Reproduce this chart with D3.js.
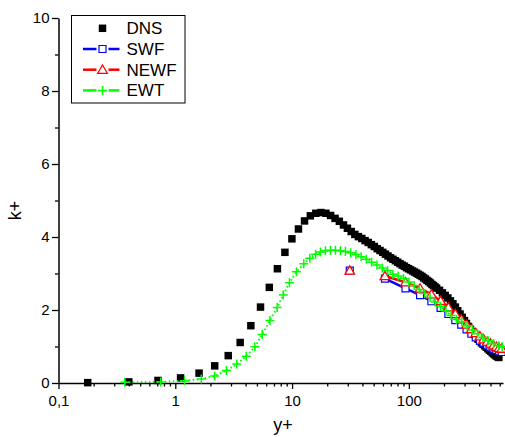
<!DOCTYPE html>
<html>
<head>
<meta charset="utf-8">
<script src="https://cdn.jsdelivr.net/npm/d3@7"></script>
<style>
html,body{margin:0;padding:0;background:#fff;}
svg{display:block;font-family:"Liberation Sans",Arial,sans-serif;}
</style>
</head>
<body>
<svg id="chart" width="505" height="437"></svg>
<script>
// ---- data ----
const dnsY = [0.178,0.400,0.711,1.110,1.598,2.175,2.841,3.595,4.437,5.369,6.386,7.49,8.686,9.968,11.34,12.79,14.34,15.97,17.68,19.48,21.37,23.34,25.40,27.55,29.78,32.09,34.49,36.97,39.54,42.18,44.91,47.73,50.61,53.59,56.65,59.78,62.99,66.29,69.67,73.12,76.66,80.26,83.96,87.70,91.56,95.45,99.43,103.5,107.6,111.8,116.1,120.5,124.9,129.4,133.9,138.5,143.2,148.0,152.8,157.7,162.7,167.7,172.8,183.2,193.8,204.6,215.7,227.0,238.4,250.3,262.2,274.4,286.5,299.2,311.2,324.7,337.2,350.9,364.2,377.7,391.1,404.9,418.7,432.6,446.6,460.7,474.9,489.1,503.5,517.8,532.2,546.6,561.0,575.5,590.0];
const dnsK = [0.01,0.03,0.07,0.14,0.27,0.47,0.75,1.11,1.57,2.08,2.62,3.13,3.58,3.95,4.22,4.44,4.58,4.65,4.67,4.65,4.59,4.51,4.43,4.33,4.24,4.15,4.07,4.01,3.96,3.90,3.85,3.79,3.74,3.68,3.63,3.58,3.53,3.48,3.43,3.39,3.35,3.31,3.27,3.23,3.20,3.16,3.13,3.10,3.07,3.04,3.01,2.98,2.95,2.92,2.88,2.85,2.81,2.78,2.74,2.70,2.67,2.63,2.60,2.54,2.47,2.40,2.33,2.25,2.17,2.08,1.98,1.89,1.80,1.71,1.63,1.55,1.47,1.40,1.33,1.26,1.20,1.15,1.10,1.06,1.02,0.98,0.94,0.90,0.87,0.83,0.80,0.77,0.74,0.72,0.70];

const ransY = [31.2,62.4,93.6,124.8,156,187,218,250,281,312,343,374,406,437,468,499,530,562,593,624];
const swfK  = [3.08,2.86,2.59,2.41,2.24,2.06,1.89,1.72,1.60,1.47,1.35,1.25,1.16,1.09,1.03,0.98,0.94,0.90,0.87,0.85];
const newfK = [3.08,2.93,2.76,2.59,2.43,2.25,2.07,1.89,1.74,1.60,1.48,1.37,1.28,1.20,1.13,1.08,1.03,0.99,0.96,0.94];

const ewtY = [0.37,0.75,1.2,1.67,2.17,2.74,3.36,4.05,4.8,5.55,6.46,7.46,8.4,9.5,10.9,12.6,14.2,15.9,17.5,19.3,21.3,23.5,25.9,28.6,31.7,35.2,39,43.3,48,53.3,59.2,65.7,72.9,81,90,100,111,123,137,152,168,187,208,230,256,284,315,350,388,431,478,531,590,630];
const ewtK = [0.02,0.03,0.06,0.11,0.19,0.34,0.52,0.73,0.99,1.33,1.71,2.07,2.41,2.75,3.05,3.27,3.42,3.53,3.59,3.62,3.64,3.64,3.62,3.60,3.57,3.52,3.46,3.39,3.31,3.23,3.15,3.08,2.98,2.93,2.86,2.77,2.67,2.56,2.45,2.34,2.22,2.10,1.97,1.85,1.74,1.68,1.57,1.45,1.35,1.25,1.16,1.08,1.02,0.99];

const xMajorTicks = [0.1,1,10,100];
const xMajorLabels = ["0,1","1","10","100"];
const yMajorTicks = [0,2,4,6,8,10];
const yMinorTicks = [1,3,5,7,9];
const legendNames = ["DNS","SWF","NEWF","EWT"];

// ---- layout ----
const svg = d3.select("#chart");
const x = d3.scaleLog().domain([0.1, 640]).range([58.5, 503]);
const y = d3.scaleLinear().domain([0, 10]).range([383, 18]);

const xMinor = [];
[0.1,1,10,100].forEach(d => { for (let m = 2; m <= 9; m++) { const v = d*m; if (v <= 640) xMinor.push(v); } });

const fontTick = 15;
// x axis
const gx = svg.append("g").attr("transform", `translate(0,${y(0)})`);
gx.call(d3.axisBottom(x).tickValues(xMinor).tickSize(3.5).tickSizeOuter(0).tickFormat(""));
gx.call(g => g.select(".domain").remove());
const gx2 = svg.append("g").attr("transform", `translate(0,${y(0)})`);
gx2.call(d3.axisBottom(x).tickValues(xMajorTicks).tickSize(6).tickSizeOuter(0)
  .tickFormat((d,i) => xMajorLabels[i]).tickPadding(6));
gx2.select(".domain").attr("stroke-width", 1.5);
// y axis
const gy = svg.append("g").attr("transform", `translate(${x(0.1)},0)`);
gy.call(d3.axisLeft(y).tickValues(yMinorTicks).tickSize(3.5).tickSizeOuter(0).tickFormat(""));
gy.call(g => g.select(".domain").remove());
const gy2 = svg.append("g").attr("transform", `translate(${x(0.1)},0)`);
gy2.call(d3.axisLeft(y).tickValues(yMajorTicks).tickSize(6.5).tickSizeOuter(0).tickPadding(2.5));
gy2.select(".domain").attr("stroke-width", 1.5);

svg.selectAll(".tick line").attr("stroke", "#000").attr("stroke-width", 1.3);
svg.selectAll(".tick text").attr("font-size", fontTick).attr("fill", "#000")
   .attr("font-family", '"Liberation Sans",Arial,sans-serif');

// axis titles
svg.append("text").attr("x", 283).attr("y", 431).attr("text-anchor", "middle")
  .attr("font-size", 18).text("y+");
svg.append("text").attr("transform", "translate(20.5,210.5) rotate(-90)")
  .attr("text-anchor", "middle").attr("font-size", 18).text("k+");

// ---- marks ----
const plot = svg.append("g");
const sq = d3.symbol().type(d3.symbolSquare);
const tri = d3.symbol().type(d3.symbolTriangle);
function plusPath(s){ const h=s/2; return `M${-h},0H${h}M0,${-h}V${h}`; }

// DNS
plot.append("g").selectAll("path").data(dnsY).join("path")
  .attr("transform", (d,i) => `translate(${x(d)},${y(dnsK[i])})`)
  .attr("d", sq.size(56)()).attr("fill", "#000");

function series(ys, ks, color, marker, lineOpts, startLine){
  const pts = ys.map((d,i) => [x(d), y(ks[i])]);
  const line = d3.line();
  plot.append("path").attr("d", line(pts.slice(startLine)))
    .attr("fill", "none").attr("stroke", color)
    .attr("stroke-width", lineOpts.w).attr("stroke-dasharray", lineOpts.dash || null);
  const g = plot.append("g");
  pts.forEach(p => {
    if (marker === "square") g.append("path").attr("transform", `translate(${p[0]},${p[1]})`)
      .attr("d", sq.size(49)()).attr("fill", "#fff").attr("stroke", color).attr("stroke-width", 1.2);
    else if (marker === "tri") g.append("path").attr("transform", `translate(${p[0]},${p[1]+0.8})`)
      .attr("d", tri.size(40)()).attr("fill", "#fff").attr("stroke", color).attr("stroke-width", 1.3);
    else g.append("path").attr("transform", `translate(${p[0]},${p[1]})`)
      .attr("d", plusPath(9)).attr("fill", "none").attr("stroke", color).attr("stroke-width", 1.5);
  });
}
series(ransY, swfK, "#0000ff", "square", {w:2.5}, 1);
series(ransY, newfK, "#ff0000", "tri", {w:2.5}, 1);
series(ewtY, ewtK, "#00ff00", "plus", {w:2, dash:"1.5,2.5"}, 0);

// ---- legend ----
const lg = svg.append("g");
lg.append("rect").attr("x", 71.5).attr("y", 15.5).attr("width", 113.5).attr("height", 87.5)
  .attr("fill", "#fff").attr("stroke", "#000").attr("stroke-width", 1);
const lcolors = ["#000","#0000ff","#ff0000","#00ff00"];
legendNames.forEach((name, i) => {
  const cy = 28.3 + i*20.7;
  const sx = 102.5;
  if (i > 0) {
    lg.append("line").attr("x1", 83).attr("x2", 96.5).attr("y1", cy).attr("y2", cy)
      .attr("stroke", lcolors[i]).attr("stroke-width", 2.5);
    lg.append("line").attr("x1", 108.5).attr("x2", 119.5).attr("y1", cy).attr("y2", cy)
      .attr("stroke", lcolors[i]).attr("stroke-width", 2.5);
  }
  if (i === 0) lg.append("path").attr("transform", `translate(${sx},${cy})`).attr("d", sq.size(56)()).attr("fill", "#000");
  if (i === 1) lg.append("path").attr("transform", `translate(${sx},${cy})`).attr("d", sq.size(49)())
      .attr("fill", "#fff").attr("stroke", lcolors[i]).attr("stroke-width", 1.2);
  if (i === 2) lg.append("path").attr("transform", `translate(${sx},${cy+0.8})`).attr("d", tri.size(40)())
      .attr("fill", "#fff").attr("stroke", lcolors[i]).attr("stroke-width", 1.3);
  if (i === 3) lg.append("path").attr("transform", `translate(${sx},${cy})`).attr("d", plusPath(9))
      .attr("fill", "none").attr("stroke", lcolors[i]).attr("stroke-width", 1.5);
  lg.append("text").attr("x", 126.5).attr("y", cy + 6).attr("font-size", 17).attr("fill", "#000").text(name);
});
</script>
</body>
</html>
